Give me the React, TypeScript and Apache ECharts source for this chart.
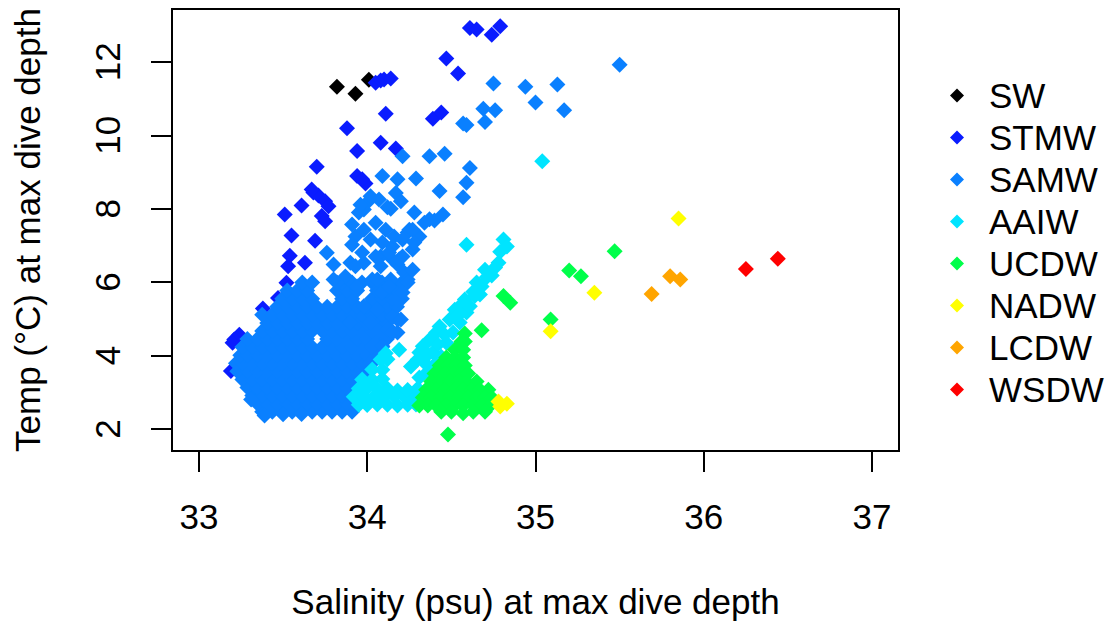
import React, { useEffect, useRef } from "react";
import * as echarts from "echarts";

// Water masses and their colours
const waterMasses = ["SW", "STMW", "SAMW", "AAIW", "UCDW", "NADW", "LCDW", "WSDW"];
const massColors = ["#000000", "#0A1CFF", "#0A80FF", "#00E4FF", "#00FF4A", "#FFFF00", "#FFA500", "#FF0000"];

// [salinity (psu), temperature (°C)] at max dive depth
const swPoints = [[33.82, 11.32], [33.93, 11.13], [34.01, 11.51]];

const stmwPoints = [
  [34.05, 11.43], [34.08, 11.49], [34.1, 11.52], [34.14, 11.55], [34.47, 12.09], [34.54, 11.68],
  [34.61, 12.92], [34.65, 12.88], [34.74, 12.74], [34.79, 12.97], [34.11, 10.59], [33.88, 10.19],
  [33.94, 9.57], [34.08, 9.8], [34.17, 9.64], [34.39, 10.45], [34.44, 10.62], [33.7, 9.14],
  [33.94, 8.89], [33.99, 8.69], [33.97, 8.8], [33.68, 8.44], [33.71, 8.36], [33.75, 8.2],
  [33.77, 8.07], [33.73, 7.8], [33.75, 7.66], [33.67, 8.52], [33.61, 8.09], [33.51, 7.84],
  [33.55, 7.27], [33.69, 7.13], [33.54, 6.72], [33.53, 6.43], [33.63, 6.53], [33.52, 5.98],
  [33.47, 5.57], [33.38, 5.28], [33.24, 4.57], [33.21, 4.44], [33.2, 4.35], [33.19, 3.58],
];

// SAMW core: dives sharing a temperature, listed as [temperature, salinities]
const samwCoreRows: [number, number[]][] = [
  [2.47, [33.376, 33.436, 33.495, 33.554, 33.614, 33.673, 33.732, 33.791, 33.851, 33.91]],
  [2.69, [33.347, 33.406, 33.465, 33.525, 33.584, 33.643, 33.702, 33.762, 33.821, 33.88, 33.94]],
  [2.91, [33.317, 33.376, 33.436, 33.495, 33.554, 33.614, 33.673, 33.732, 33.791, 33.851, 33.91]],
  [3.13, [33.288, 33.347, 33.406, 33.465, 33.525, 33.584, 33.643, 33.702, 33.762, 33.821, 33.88, 33.94]],
  [3.35, [33.258, 33.317, 33.376, 33.436, 33.495, 33.554, 33.614, 33.673, 33.732, 33.791, 33.851, 33.91, 33.969]],
  [3.57, [33.228, 33.288, 33.347, 33.406, 33.465, 33.525, 33.584, 33.643, 33.702, 33.762, 33.821, 33.88, 33.94, 33.999]],
  [3.79, [33.22, 33.258, 33.317, 33.376, 33.436, 33.495, 33.554, 33.614, 33.673, 33.732, 33.791, 33.851, 33.91, 33.969, 34.029]],
  [4.01, [33.246, 33.288, 33.347, 33.406, 33.465, 33.525, 33.584, 33.643, 33.702, 33.762, 33.821, 33.88, 33.94, 33.999, 34.058]],
  [4.23, [33.258, 33.317, 33.376, 33.436, 33.495, 33.554, 33.614, 33.673, 33.732, 33.791, 33.851, 33.91, 33.969, 34.029, 34.088]],
  [4.45, [33.288, 33.347, 33.406, 33.465, 33.525, 33.584, 33.643, 33.762, 33.821, 33.88, 33.94, 33.999, 34.058, 34.117]],
  [4.67, [33.376, 33.436, 33.495, 33.554, 33.614, 33.673, 33.732, 33.791, 33.851, 33.91, 33.969, 34.029, 34.088, 34.147]],
  [4.89, [33.406, 33.465, 33.525, 33.584, 33.643, 33.702, 33.762, 33.821, 33.88, 33.94, 33.999, 34.058, 34.117]],
  [5.11, [33.376, 33.436, 33.495, 33.554, 33.614, 33.673, 33.732, 33.791, 33.851, 33.91, 33.969, 34.029, 34.088, 34.147]],
  [5.33, [33.465, 33.525, 33.584, 33.643, 33.702, 33.762, 33.821, 33.88, 33.94, 33.999, 34.058, 34.117, 34.177]],
  [5.55, [33.495, 33.554, 33.614, 33.673, 33.851, 33.91, 34.029, 34.088, 34.147, 34.206]],
  [5.77, [33.525, 33.584, 33.643, 33.821, 33.88, 33.94, 34.058, 34.117, 34.177]],
  [5.99, [33.614, 33.673, 33.851, 33.91, 33.969, 34.029, 34.088, 34.147, 34.206]],
];

const samwOtherPoints = [
  // lowest dives
  [33.39, 2.37], [33.61, 2.41], [33.5, 2.4], [33.31, 2.8],
  // rising arm
  [33.98, 7.98], [34.12, 8.04], [34.28, 7.9], [34.37, 7.71], [34.34, 7.62], [34.25, 7.43], [34.31, 7.24],
  [34.27, 6.89], [34.15, 6.97], [34.08, 6.7], [34.18, 6.48], [34.22, 6.26], [34.14, 6.07], [34.03, 6.07],
  [33.98, 6.53], [33.9, 6.53], [33.87, 6.15], [33.82, 5.99], [33.94, 5.88], [34.09, 5.72], [34.18, 5.53],
  [34.24, 6.07], [34.15, 5.06], [34.18, 4.63], [34.06, 5.25], [33.98, 5.34], [33.9, 4.9], [34.02, 4.9],
  [34.12, 4.71], [34.0, 8.17], [33.95, 7.9], [33.93, 7.24], [33.98, 7.43], [34.05, 7.62], [34.09, 7.08],
  [34.16, 7.24], [34.24, 7.35], [34.21, 6.7], [34.15, 6.62], [34.05, 6.7], [33.97, 6.81], [33.93, 6.43],
  [34.27, 6.34], [34.27, 7.43], [34.21, 7.16], [34.13, 6.81], [34.19, 6.62], [34.24, 5.99], [34.13, 5.88],
  [34.06, 6.07], [34.08, 6.43], [34.18, 4.98], [34.03, 4.25], [34.02, 3.81], [34.21, 5.72], [34.2, 4.98],
  [34.15, 4.63], [34.09, 4.25], [33.8, 6.48], [33.8, 6.07], [33.91, 7.02], [33.91, 7.57], [34.02, 7.16],
  [34.11, 7.43], [34.28, 7.08],
  // upper scatter
  [35.5, 11.92], [34.75, 11.41], [34.94, 11.32], [35.13, 11.38], [35.0, 10.89], [35.17, 10.68],
  [34.76, 10.68], [34.69, 10.72], [34.7, 10.36], [34.57, 10.32], [34.59, 10.28], [34.37, 9.43],
  [34.46, 9.5], [34.21, 9.43], [34.61, 9.11], [34.29, 8.82], [34.09, 8.89], [34.18, 8.8], [34.59, 8.71],
  [34.43, 8.48], [34.57, 8.31], [34.17, 8.43], [34.2, 8.2], [34.14, 8.0], [34.02, 8.34], [34.07, 8.25],
  [33.96, 8.11], [34.45, 7.84], [34.4, 7.68], [33.76, 6.8],
];

const aaiwPoints = [
  [33.95, 2.66], [34.0, 2.65], [34.06, 2.67], [34.12, 2.66], [34.18, 2.64], [34.24, 2.66], [34.29, 2.67],
  [33.92, 2.88], [33.98, 2.89], [34.04, 2.87], [34.1, 2.88], [34.16, 2.9], [34.22, 2.88], [34.28, 2.87],
  [34.33, 2.89], [33.95, 3.1], [34.0, 3.11], [34.06, 3.09], [34.12, 3.1], [34.18, 3.05], [34.24, 3.06],
  [34.3, 3.1], [34.36, 3.11], [33.97, 3.35], [34.03, 3.34], [34.09, 3.36], [34.03, 3.62], [34.09, 3.61],
  [34.08, 3.89], [34.12, 3.9], [34.11, 4.06], [34.19, 4.16], [34.26, 3.7],
  [34.81, 7.16], [34.83, 6.97], [34.79, 6.83], [34.78, 6.53], [34.7, 6.34], [34.71, 6.13], [34.65, 5.99],
  [34.63, 5.74], [34.58, 5.53], [34.55, 5.34], [34.52, 5.25], [34.49, 4.98], [34.43, 4.79], [34.41, 4.63],
  [34.37, 4.43], [34.33, 4.25], [34.31, 4.08], [34.3, 3.89], [34.34, 3.81], [34.39, 4.08], [34.47, 4.35],
  [34.51, 4.63], [34.55, 4.9], [34.59, 5.17], [34.61, 5.34], [34.44, 3.97], [34.46, 4.57], [34.42, 4.3],
  [34.36, 4.03], [34.53, 5.04], [34.64, 5.63], [34.68, 5.88], [34.74, 6.18], [34.76, 6.4], [34.67, 5.66],
  [34.31, 3.4], [34.36, 3.56], [34.4, 3.75], [34.59, 7.02], [35.04, 9.29],
];

const ucdwPoints = [
  [34.58, 4.6], [34.56, 4.38], [34.58, 4.38], [34.52, 4.16], [34.57, 4.16],
  [34.47, 3.95], [34.52, 3.95], [34.57, 3.95],
  [34.43, 3.73], [34.48, 3.73], [34.53, 3.73], [34.58, 3.73],
  [34.4, 3.51], [34.46, 3.51], [34.51, 3.51], [34.56, 3.51], [34.6, 3.51],
  [34.38, 3.29], [34.43, 3.29], [34.49, 3.29], [34.54, 3.29], [34.59, 3.29], [34.65, 3.29],
  [34.35, 3.07], [34.41, 3.07], [34.46, 3.07], [34.52, 3.07], [34.57, 3.07], [34.62, 3.07], [34.67, 3.07],
  [34.72, 3.07],
  [34.33, 2.86], [34.38, 2.86], [34.44, 2.86], [34.49, 2.86], [34.54, 2.86], [34.6, 2.86], [34.65, 2.86],
  [34.7, 2.86], [34.74, 2.86],
  [34.31, 2.64], [34.36, 2.64], [34.41, 2.64], [34.47, 2.64], [34.52, 2.64], [34.57, 2.64], [34.63, 2.64],
  [34.68, 2.64], [34.73, 2.64],
  [34.44, 2.47], [34.5, 2.47], [34.57, 2.43], [34.63, 2.47], [34.7, 2.47],
  [34.68, 4.69], [34.81, 5.62], [34.85, 5.44], [34.48, 1.85], [35.47, 6.84], [35.2, 6.32], [35.27, 6.16],
  [35.09, 4.98],
];

const nadwPoints = [[34.78, 2.75], [34.83, 2.69], [34.79, 2.61], [35.85, 7.73], [35.35, 5.71], [35.09, 4.66]];
const lcdwPoints = [[35.69, 5.68], [35.8, 6.16], [35.86, 6.07]];
const wsdwPoints = [[36.25, 6.36], [36.44, 6.64]];

const samwPoints = [
  ...samwCoreRows.flatMap(([t, sals]) => sals.map((s) => [s, t])),
  ...samwOtherPoints,
];

const massPoints = [swPoints, stmwPoints, samwPoints, aaiwPoints, ucdwPoints, nadwPoints, lcdwPoints, wsdwPoints];

const salinityTicks = [33, 34, 35, 36, 37];
const tempTicks = [2, 4, 6, 8, 10, 12];

const FONT = '"Liberation Sans", Arial, Helvetica, sans-serif';

export default function App() {
  const ref = useRef<HTMLDivElement>(null);

  useEffect(() => {
    if (!ref.current) return;
    const chart = echarts.init(ref.current, null, { renderer: "svg" });

    const series = waterMasses.map((name, i) => ({
      name,
      type: "scatter",
      symbol: "diamond",
      symbolSize: 16,
      itemStyle: { color: massColors[i], opacity: 1 },
      emphasis: { disabled: true },
      data: massPoints[i],
    }));

    chart.setOption({
      animation: false,
      textStyle: { fontFamily: FONT },
      grid: {
        show: true,
        left: 172,
        top: 9,
        width: 727,
        height: 443,
        borderColor: "#000",
        borderWidth: 2,
        backgroundColor: "transparent",
      },
      legend: {
        orient: "vertical",
        left: 945,
        top: 73,
        itemWidth: 14,
        itemHeight: 14,
        itemGap: 7,
        icon: "diamond",
        textStyle: {
          fontSize: 35,
          color: "#000",
          fontFamily: FONT,
          lineHeight: 35,
          padding: [0, 0, 0, 20],
        },
        data: waterMasses,
      },
      xAxis: {
        type: "value",
        min: 32.84,
        max: 37.16,
        name: "Salinity (psu) at max dive depth",
        nameLocation: "middle",
        nameGap: 133,
        nameTextStyle: { fontSize: 35, color: "#000", fontFamily: FONT },
        axisLine: { show: false },
        splitLine: { show: false },
        axisTick: {
          show: true,
          length: 21,
          lineStyle: { color: "#000", width: 2 },
          customValues: salinityTicks,
        },
        axisLabel: {
          fontSize: 35,
          color: "#000",
          fontFamily: FONT,
          margin: 48,
          customValues: salinityTicks,
        },
      },
      yAxis: {
        type: "value",
        min: 1.4,
        max: 13.44,
        name: "Temp (°C) at max dive depth",
        nameLocation: "middle",
        nameGap: 127,
        nameTextStyle: { fontSize: 35, color: "#000", fontFamily: FONT },
        axisLine: { show: false },
        splitLine: { show: false },
        axisTick: {
          show: true,
          length: 21,
          lineStyle: { color: "#000", width: 2 },
          customValues: tempTicks,
        },
        axisLabel: {
          fontSize: 35,
          color: "#000",
          fontFamily: FONT,
          rotate: 90,
          margin: 47,
          customValues: tempTicks,
        },
      },
      series,
    });

    return () => chart.dispose();
  }, []);

  return (
    <div
      ref={ref}
      style={{ position: "fixed", left: 0, top: 0, width: 1109, height: 624, background: "#fff" }}
    />
  );
}
